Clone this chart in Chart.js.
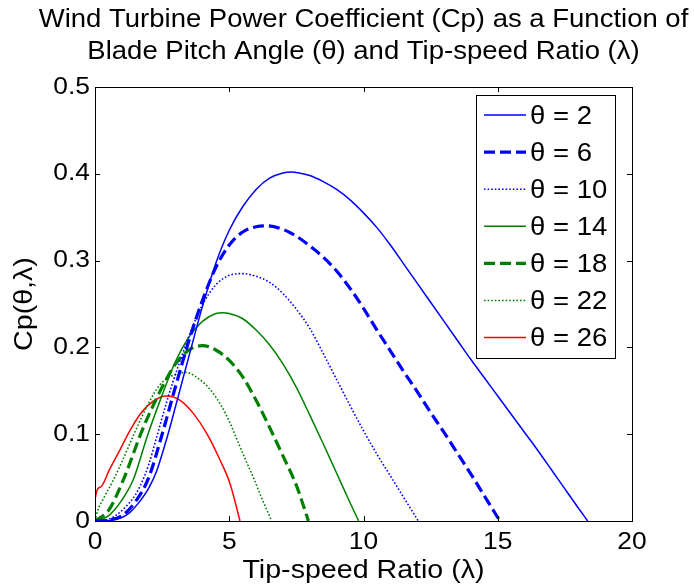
<!DOCTYPE html>
<html>
<head>
<meta charset="utf-8">
<script src="https://cdn.jsdelivr.net/npm/chart.js@4.4.0/dist/chart.umd.min.js"></script>
<style>
html,body{margin:0;padding:0;background:#fff;}
#wrap{width:694px;height:586px;}
</style>
</head>
<body>
<div id="wrap"><canvas id="c" width="694" height="586"></canvas></div>
<script>
// ---- data ----
const seriesLabels = ['θ = 2', 'θ = 6', 'θ = 10', 'θ = 14', 'θ = 18', 'θ = 22', 'θ = 26'];

const lam2 = [0, 0.5, 1.0, 1.3, 1.6, 2.0, 2.3, 2.7, 3.0, 3.5, 4.0, 4.5, 5.0, 5.5, 6.0, 6.5, 7.0, 7.3, 7.6, 8.0, 8.5, 9.0, 9.5, 10.0, 10.5, 11.0, 11.5, 12.0, 12.5, 13.0, 13.5, 14.0, 14.5, 15.0, 15.5, 16.0, 16.5, 17.0, 17.5, 18.0, 18.35];
const cp2  = [0, 0.0005, 0.004, 0.01, 0.02, 0.038, 0.058, 0.098, 0.132, 0.19, 0.247, 0.297, 0.335, 0.362, 0.382, 0.395, 0.401, 0.402, 0.401, 0.398, 0.391, 0.382, 0.37, 0.355, 0.338, 0.318, 0.296, 0.274, 0.252, 0.23, 0.208, 0.186, 0.165, 0.144, 0.123, 0.102, 0.081, 0.059, 0.037, 0.015, 0];

const lam6 = [0, 0.5, 1.0, 1.5, 2.0, 2.5, 3.0, 3.5, 4.0, 4.5, 5.0, 5.5, 6.0, 6.4, 7.0, 7.5, 8.0, 8.5, 9.0, 9.5, 10.0, 10.5, 11.0, 11.5, 12.0, 12.5, 13.0, 13.5, 14.0, 14.5, 15.08];
const cp6  = [0, 0.001, 0.006, 0.022, 0.05, 0.1, 0.155, 0.208, 0.254, 0.292, 0.318, 0.333, 0.339, 0.34, 0.336, 0.328, 0.317, 0.304, 0.288, 0.268, 0.245, 0.22, 0.196, 0.172, 0.149, 0.125, 0.102, 0.078, 0.054, 0.029, 0];

const lam10 = [0, 0.5, 1.0, 1.5, 1.75, 2.0, 2.3, 2.6, 2.9, 3.5, 4.0, 4.5, 5.0, 5.5, 6.0, 6.5, 7.0, 7.5, 8.0, 8.5, 9.0, 9.5, 10.0, 10.5, 11.0, 11.5, 12.04];
const cp10  = [0, 0.002, 0.012, 0.03, 0.045, 0.065, 0.097, 0.13, 0.16, 0.213, 0.249, 0.272, 0.283, 0.285, 0.282, 0.275, 0.262, 0.244, 0.222, 0.193, 0.163, 0.133, 0.104, 0.077, 0.052, 0.027, 0];

const lam14 = [0, 0.5, 1.0, 1.43, 1.95, 2.5, 3.0, 3.5, 4.0, 4.5, 4.75, 5.0, 5.5, 6.0, 6.5, 7.0, 7.5, 8.0, 8.5, 9.0, 9.5, 9.82];
const cp14  = [0, 0.006, 0.024, 0.048, 0.098, 0.145, 0.184, 0.212, 0.23, 0.239, 0.24, 0.239, 0.233, 0.22, 0.203, 0.181, 0.154, 0.122, 0.089, 0.055, 0.021, 0];

const lam18 = [0, 0.5, 1.05, 1.7, 2.0, 2.6, 3.0, 3.5, 4.0, 4.5, 5.0, 5.5, 6.0, 6.5, 7.0, 7.5, 7.95];
const cp18  = [0, 0.012, 0.047, 0.1, 0.122, 0.16, 0.181, 0.197, 0.202, 0.197, 0.185, 0.166, 0.139, 0.108, 0.075, 0.041, 0];

const lam22 = [0, 0.1, 0.3, 0.68, 1.0, 1.45, 2.0, 2.42, 3.0, 3.4, 3.9, 4.3, 4.7, 5.0, 5.3, 5.6, 5.9, 6.2, 6.58];
const cp22  = [0, 0.012, 0.025, 0.047, 0.068, 0.1, 0.136, 0.157, 0.169, 0.171, 0.163, 0.151, 0.133, 0.115, 0.093, 0.071, 0.05, 0.027, 0];

const lam26 = [0, 0.01, 0.2, 0.55, 0.93, 1.3, 1.68, 2.17, 2.65, 3.17, 3.66, 4.16, 4.66, 5.03, 5.4];
const cp26  = [0, 0.026, 0.039, 0.06, 0.082, 0.104, 0.123, 0.138, 0.144, 0.139, 0.124, 0.101, 0.07, 0.043, 0];

const xTicks = [0, 5, 10, 15, 20];
const yTicks = [0, 0.1, 0.2, 0.3, 0.4, 0.5];

const titleLines = ['Wind Turbine Power Coefficient (Cp) as a Function of', 'Blade Pitch Angle (θ) and Tip-speed Ratio (λ)'];
const xTitle = 'Tip-speed Ratio (λ)';
const yTitle = 'Cp(θ,λ)';

// ---- text rendering: the reference's lettering is slightly wide ----
const TEXT_SX = 1.1;
(function () {
  const proto = CanvasRenderingContext2D.prototype;
  const orig = proto.fillText;
  proto.fillText = function (t, x, y, maxW) {
    this.save();
    this.translate(x, y);
    this.scale(TEXT_SX, 1);
    if (maxW !== undefined && maxW !== null) orig.call(this, t, 0, 0, maxW / TEXT_SX);
    else orig.call(this, t, 0, 0);
    this.restore();
  };
})();

// ---- styles ----
const FONT = "'Liberation Sans', Arial, Helvetica, sans-serif";
const BLUE = '#0000ff', GREEN = '#008000', RED = '#ff0000';
const styles = [
  {color: BLUE,  width: 1.5, dash: []},
  {color: BLUE,  width: 3.2, dash: [11, 5]},
  {color: BLUE,  width: 1.6, dash: [1.6, 2]},
  {color: GREEN, width: 1.5, dash: []},
  {color: GREEN, width: 3.2, dash: [11, 5]},
  {color: GREEN, width: 1.6, dash: [1.6, 2]},
  {color: RED,   width: 1.5, dash: []}
];
const lams = [lam2, lam6, lam10, lam14, lam18, lam22, lam26];
const cps  = [cp2, cp6, cp10, cp14, cp18, cp22, cp26];

const datasets = seriesLabels.map((lab, i) => ({
  label: lab,
  data: lams[i].map((x, j) => ({x: x, y: cps[i][j]})),
  borderColor: styles[i].color,
  backgroundColor: styles[i].color,
  borderWidth: styles[i].width,
  borderDash: styles[i].dash,
  pointRadius: 0,
  fill: false,
  cubicInterpolationMode: 'monotone',
  order: i
}));

const framePlugin = {
  id: 'frame',
  afterDraw(chart) {
    const {ctx, chartArea: a, scales} = chart;
    ctx.save();
    ctx.strokeStyle = '#000';
    ctx.lineWidth = 1;
    ctx.setLineDash([]);
    ctx.strokeRect(Math.round(a.left) + 0.5, Math.round(a.top) + 0.5, Math.round(a.right - a.left), Math.round(a.bottom - a.top));
    const tl = 5;
    ctx.beginPath();
    xTicks.forEach(v => {
      const px = Math.round(scales.x.getPixelForValue(v)) + 0.5;
      ctx.moveTo(px, a.bottom); ctx.lineTo(px, a.bottom - tl);
      ctx.moveTo(px, a.top); ctx.lineTo(px, a.top + tl);
    });
    yTicks.forEach(v => {
      const py = Math.round(scales.y.getPixelForValue(v)) + 0.5;
      ctx.moveTo(a.left, py); ctx.lineTo(a.left + tl, py);
      ctx.moveTo(a.right, py); ctx.lineTo(a.right - tl, py);
    });
    ctx.stroke();

    // title
    ctx.fillStyle = '#000';
    ctx.font = '25px ' + FONT;
    ctx.textAlign = 'center';
    ctx.textBaseline = 'alphabetic';
    const cx = (a.left + a.right) / 2;
    ctx.fillText(titleLines[0], cx, 27);
    ctx.fillText(titleLines[1], cx, 59);

    // legend
    const lx = 476.5, ly = 95.5, lw = 139, lh = 263;
    ctx.fillStyle = '#fff';
    ctx.fillRect(lx, ly, lw, lh);
    ctx.strokeStyle = '#000';
    ctx.lineWidth = 1;
    ctx.strokeRect(lx, ly, lw, lh);
    ctx.font = '25px ' + FONT;
    ctx.textAlign = 'left';
    ctx.textBaseline = 'middle';
    seriesLabels.forEach((lab, i) => {
      const y = 115 + i * 37.1;
      ctx.beginPath();
      ctx.strokeStyle = styles[i].color;
      ctx.lineWidth = styles[i].width;
      ctx.setLineDash(styles[i].dash);
      ctx.moveTo(484, y); ctx.lineTo(526, y);
      ctx.stroke();
      ctx.setLineDash([]);
      ctx.fillStyle = '#000';
      ctx.fillText(lab, 530, y + 2);
    });
    ctx.restore();
  }
};

new Chart(document.getElementById('c'), {
  type: 'line',
  data: {datasets},
  options: {
    responsive: false,
    devicePixelRatio: 1,
    animation: false,
    layout: {padding: {left: 0, right: 62, top: 87, bottom: 0}},
    plugins: {legend: {display: false}, tooltip: {enabled: false}, title: {display: false}},
    scales: {
      x: {
        type: 'linear', min: 0, max: 20,
        afterBuildTicks: s => { s.ticks = xTicks.map(v => ({value: v})); },
        afterFit: s => { s.height = 65; },
        grid: {display: false, drawTicks: false},
        border: {display: false},
        ticks: {color: '#000', font: {family: FONT, size: 24}, padding: 7, maxRotation: 0, autoSkip: false},
        title: {display: true, text: xTitle, color: '#000', font: {family: FONT, size: 26}, padding: {top: 0, bottom: 0}}
      },
      y: {
        type: 'linear', min: 0, max: 0.5,
        afterBuildTicks: s => { s.ticks = yTicks.map(v => ({value: v})); },
        afterFit: s => { s.width = 95; },
        grid: {display: false, drawTicks: false},
        border: {display: false},
        ticks: {color: '#000', font: {family: FONT, size: 24}, padding: 5},
        title: {display: true, text: yTitle, color: '#000', font: {family: FONT, size: 26}, padding: {top: 9, bottom: 0}}
      }
    }
  },
  plugins: [framePlugin]
});
</script>
</body>
</html>
